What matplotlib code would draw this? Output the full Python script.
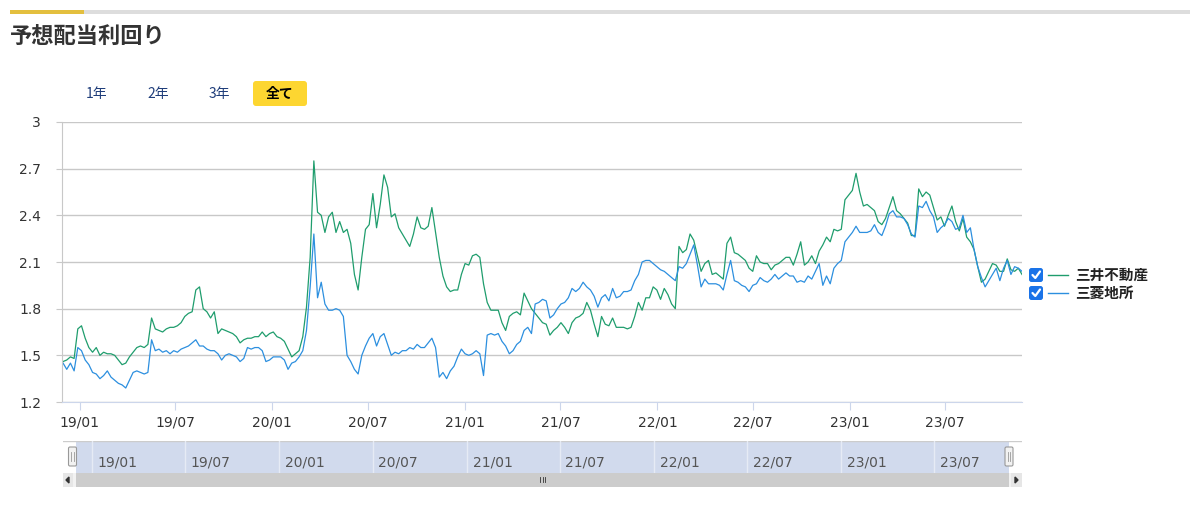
import matplotlib
matplotlib.use('Agg')
import matplotlib.pyplot as plt
from matplotlib.patches import Rectangle, FancyBboxPatch, Polygon
from matplotlib.lines import Line2D
from matplotlib.transforms import Affine2D
import pandas as pd

W, H = 1201, 511

# weekly readings
dates = pd.date_range('2018-11-30', periods=261, freq='7D')
mitsui = [
    1.46, 1.47, 1.49, 1.48, 1.67, 1.69, 1.61, 1.55, 1.52, 1.55,
    1.50, 1.52, 1.51, 1.51, 1.50, 1.47, 1.44, 1.45, 1.49, 1.52,
    1.55, 1.56, 1.55, 1.57, 1.74, 1.67, 1.66, 1.65, 1.67, 1.68,
    1.68, 1.69, 1.71, 1.75, 1.77, 1.78, 1.92, 1.94, 1.80, 1.78,
    1.74, 1.78, 1.64, 1.67, 1.66, 1.65, 1.64, 1.62, 1.58, 1.60,
    1.61, 1.61, 1.62, 1.62, 1.65, 1.62, 1.64, 1.65, 1.62, 1.61,
    1.59, 1.54, 1.49, 1.51, 1.53, 1.62, 1.81, 2.13, 2.75, 2.42,
    2.40, 2.29, 2.39, 2.42, 2.29, 2.36, 2.29, 2.31, 2.22, 2.02,
    1.92, 2.13, 2.31, 2.34, 2.54, 2.32, 2.47, 2.66, 2.58, 2.39,
    2.41, 2.32, 2.28, 2.24, 2.20, 2.28, 2.39, 2.32, 2.31, 2.33,
    2.45, 2.29, 2.13, 2.01, 1.94, 1.91, 1.92, 1.92, 2.02, 2.09,
    2.08, 2.14, 2.15, 2.13, 1.96, 1.84, 1.79, 1.79, 1.79, 1.71,
    1.66, 1.75, 1.77, 1.78, 1.76, 1.90, 1.85, 1.80, 1.77, 1.74,
    1.71, 1.70, 1.63, 1.66, 1.68, 1.71, 1.68, 1.64, 1.71, 1.74,
    1.75, 1.77, 1.84, 1.79, 1.70, 1.62, 1.75, 1.70, 1.69, 1.74,
    1.68, 1.68, 1.68, 1.67, 1.68, 1.75, 1.84, 1.79, 1.87, 1.87,
    1.94, 1.92, 1.86, 1.93, 1.89, 1.83, 1.80, 2.20, 2.16, 2.18,
    2.28, 2.24, 2.14, 2.04, 2.09, 2.11, 2.02, 2.03, 2.01, 1.99,
    2.22, 2.26, 2.16, 2.15, 2.13, 2.11, 2.06, 2.04, 2.14, 2.10,
    2.09, 2.09, 2.05, 2.08, 2.09, 2.11, 2.13, 2.13, 2.08, 2.15,
    2.23, 2.08, 2.10, 2.14, 2.09, 2.17, 2.21, 2.26, 2.23, 2.31,
    2.30, 2.31, 2.50, 2.53, 2.56, 2.67, 2.55, 2.46, 2.47, 2.45,
    2.43, 2.36, 2.34, 2.38, 2.45, 2.52, 2.43, 2.41, 2.38, 2.35,
    2.27, 2.27, 2.57, 2.52, 2.55, 2.53, 2.45, 2.37, 2.39, 2.33,
    2.40, 2.46, 2.36, 2.30, 2.38, 2.26, 2.23, 2.18, 2.07, 1.97,
    1.99, 2.04, 2.09, 2.08, 2.04, 2.04, 2.12, 2.05, 2.04, 2.06, 2.02,
]
mitsubishi = [
    1.45, 1.41, 1.45, 1.40, 1.55, 1.53, 1.47, 1.44, 1.39, 1.38,
    1.35, 1.37, 1.40, 1.36, 1.34, 1.32, 1.31, 1.29, 1.34, 1.39,
    1.40, 1.39, 1.38, 1.39, 1.60, 1.53, 1.54, 1.52, 1.53, 1.51,
    1.53, 1.52, 1.54, 1.55, 1.56, 1.58, 1.60, 1.56, 1.56, 1.54,
    1.53, 1.53, 1.51, 1.47, 1.50, 1.51, 1.50, 1.49, 1.46, 1.48,
    1.55, 1.54, 1.55, 1.55, 1.53, 1.46, 1.47, 1.49, 1.49, 1.49,
    1.47, 1.41, 1.45, 1.46, 1.49, 1.53, 1.66, 1.94, 2.28, 1.87,
    1.97, 1.83, 1.79, 1.79, 1.80, 1.79, 1.75, 1.50, 1.46, 1.41,
    1.38, 1.50, 1.56, 1.61, 1.64, 1.56, 1.62, 1.64, 1.57, 1.50,
    1.52, 1.51, 1.53, 1.53, 1.55, 1.54, 1.57, 1.55, 1.55, 1.58,
    1.61, 1.55, 1.36, 1.39, 1.35, 1.40, 1.43, 1.49, 1.54, 1.51,
    1.50, 1.51, 1.53, 1.51, 1.37, 1.63, 1.64, 1.63, 1.64, 1.59,
    1.56, 1.51, 1.53, 1.57, 1.59, 1.66, 1.68, 1.64, 1.83, 1.84,
    1.86, 1.85, 1.74, 1.76, 1.80, 1.83, 1.84, 1.87, 1.93, 1.91,
    1.93, 1.97, 1.94, 1.92, 1.88, 1.81, 1.87, 1.89, 1.85, 1.93,
    1.87, 1.88, 1.91, 1.91, 1.92, 1.98, 2.02, 2.10, 2.11, 2.11,
    2.09, 2.07, 2.05, 2.04, 2.02, 2.00, 1.98, 2.07, 2.06, 2.09,
    2.15, 2.21, 2.08, 1.94, 1.99, 1.96, 1.96, 1.96, 1.95, 1.92,
    2.02, 2.11, 1.98, 1.97, 1.95, 1.94, 1.91, 1.95, 1.96, 2.00,
    1.98, 1.97, 1.99, 2.02, 1.99, 2.01, 2.03, 2.01, 2.01, 1.97,
    1.98, 1.97, 2.01, 1.99, 2.04, 2.09, 1.95, 2.01, 1.96, 2.06,
    2.09, 2.11, 2.23, 2.26, 2.29, 2.33, 2.29, 2.29, 2.29, 2.30,
    2.34, 2.29, 2.27, 2.33, 2.41, 2.43, 2.39, 2.39, 2.38, 2.34,
    2.28, 2.26, 2.46, 2.45, 2.49, 2.43, 2.39, 2.29, 2.32, 2.34,
    2.38, 2.36, 2.31, 2.32, 2.40, 2.29, 2.32, 2.18, 2.07, 2.00,
    1.94, 1.98, 2.02, 2.06, 1.98, 2.06, 2.11, 2.02, 2.07, 2.06, 2.04,
]

series_names = ['三井不動産', '三菱地所']
series_colors = ['#1f9d6d', '#2c8fdf']
y_ticks = [1.2, 1.5, 1.8, 2.1, 2.4, 2.7, 3.0]
y_labels = ['1.2', '1.5', '1.8', '2.1', '2.4', '2.7', '3']
tick_dates = pd.date_range('2019-01-01', '2023-07-01', freq='6MS')
tick_labels = [d.strftime('%y/%m') for d in tick_dates]
buttons = ['1年', '2年', '3年', '全て']
title = '予想配当利回り'

JP = ['Noto Sans CJK JP', 'DejaVu Sans']

fig = plt.figure(figsize=(W / 100, H / 100), dpi=100)
# pixel coords, origin top-left
T = Affine2D().scale(1, -1).translate(0, H)

# header bar + title
fig.add_artist(Rectangle((10, 10), 1180, 4, color='#dddddd', lw=0, transform=T))
fig.add_artist(Rectangle((10, 10), 74, 4, color='#e3bf3e', lw=0, transform=T))
fig.text(10, 36, title, transform=T, fontsize=16, fontweight='bold',
         color='#333333', family=JP, va='center', ha='left')

# range buttons
btn_x = [97, 158, 219, 280]
fig.add_artist(FancyBboxPatch((253, 81), 54, 25, boxstyle='round,pad=0,rounding_size=3',
                              fc='#fdd631', ec='none', transform=T))
for bx, b in zip(btn_x, buttons):
    active = b == '全て'
    fig.text(bx, 94, b, transform=T, ha='center', va='center', family=JP,
             fontsize=10, fontweight='bold' if active else 'normal',
             color='#000000' if active else '#1f3d7a')

# main chart
ax = fig.add_axes([62 / W, 1 - 402 / H, 960 / W, 280 / H])
for name, vals, c in zip(series_names, [mitsui, mitsubishi], series_colors):
    ax.plot(dates, vals, color=c, lw=0.9, label=name)
ax.set_ylim(1.2, 3.0)
ax.set_xlim(pd.Timestamp('2018-11-28'), pd.Timestamp('2023-11-24'))
ax.set_yticks(y_ticks, y_labels)
ax.set_xticks(tick_dates, tick_labels)
ax.grid(axis='y', color='#c8c8c8', lw=1)
ax.set_axisbelow(True)
for s in ['top', 'right']:
    ax.spines[s].set_visible(False)
ax.spines['left'].set_color('#c8c8c8')
ax.spines['bottom'].set_color('#ccd6eb')
ax.tick_params(axis='y', length=4, color='#c8c8c8', pad=11, labelsize=10, labelcolor='#333333')
ax.tick_params(axis='x', length=6, color='#ccd6eb', pad=4, labelsize=10, labelcolor='#333333')

# navigator
nav_lim = (pd.Timestamp('2018-11-05'), pd.Timestamp('2023-12-19'))
nav = fig.add_axes([63 / W, 1 - 473 / H, 959 / W, 32 / H])
nav.set_xlim(*nav_lim)
nav.set_ylim(0, 1)
nav.axis('off')
nav.axvspan(dates[0], dates[-1], color='#d1daed', lw=0)
nav.axhline(1, color='#cccccc', lw=1)
for d, lbl in zip(tick_dates, tick_labels):
    nav.axvline(d, color='#e6ebf5', lw=1)
    nav.annotate(lbl, (d, 0.32), xytext=(4, 0), textcoords='offset points',
                 ha='left', va='center', fontsize=10, color='#555555')

# scrollbar
sb = fig.add_axes([63 / W, 1 - 487 / H, 959 / W, 14 / H])
sb.set_xlim(*nav_lim)
sb.set_ylim(0, 1)
sb.axis('off')
sb.axvspan(*nav_lim, color='#f2f2f2', lw=0)
sb.axvspan(dates[0], dates[-1], color='#cccccc', lw=0)
fig.add_artist(Rectangle((63, 473), 10, 14, color='#e6e6e6', lw=0, transform=T))
fig.add_artist(Rectangle((1011, 473), 11, 14, color='#e6e6e6', lw=0, transform=T))
fig.add_artist(Polygon([(69, 477), (69, 483), (66, 480)], closed=True, color='#333333', transform=T))
fig.add_artist(Polygon([(1015, 477), (1015, 483), (1018, 480)], closed=True, color='#333333', transform=T))
for gx in (540, 542.5, 545):
    fig.add_artist(Line2D([gx, gx], [477, 482], color='#333333', lw=0.6, transform=T))

# navigator handles
for hx in (72.5, 1009):
    fig.add_artist(FancyBboxPatch((hx - 4, 447), 8, 19, boxstyle='round,pad=0,rounding_size=1.5',
                                  fc='#f2f2f2', ec='#999999', lw=0.8, transform=T))
    for off in (-1.2, 1.2):
        fig.add_artist(Line2D([hx + off, hx + off], [452, 461], color='#999999', lw=0.6, transform=T))

# legend with checkboxes
for k, (name, c) in enumerate(zip(series_names, series_colors)):
    yc = 275 + 18 * k
    fig.add_artist(FancyBboxPatch((1029, yc - 7), 14, 14, boxstyle='round,pad=0,rounding_size=2.5',
                                  fc='#1a73e8', ec='none', transform=T))
    fig.add_artist(Line2D([1032.5, 1035.3, 1040], [yc, yc + 3, yc - 3.5], color='white',
                          lw=1.6, solid_capstyle='round', solid_joinstyle='round', transform=T))
    fig.add_artist(Line2D([1048, 1068], [yc, yc], color=c, lw=1, transform=T))
    fig.text(1075, yc, name, transform=T, ha='left', va='center', family=JP,
             fontsize=10.5, fontweight='bold', color='#222222')

fig.savefig('out.png', dpi=100)
